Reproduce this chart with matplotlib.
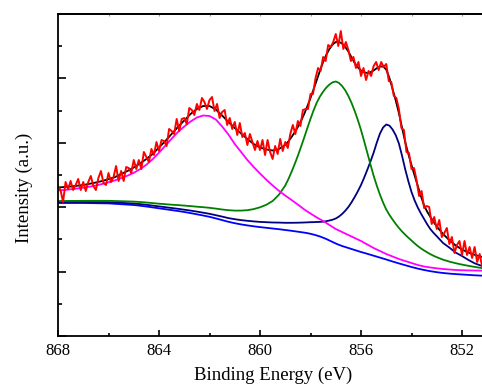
import numpy as np
import matplotlib
matplotlib.use("Agg")
import matplotlib.pyplot as plt
from matplotlib.ticker import MultipleLocator

plt.rcParams['font.family'] = ['Liberation Serif', 'DejaVu Serif']

# Fitted curves (intensity in a.u.): 0.25 eV steps, finer (0.125 eV) across the main peaks
energy_fit = np.concatenate([np.linspace(868.0, 859.25, 36),
                             np.linspace(859.0, 853.0, 49),
                             np.linspace(852.75, 851.0, 8)])

background = [133.0, 133.0, 133.0, 133.0, 133.0, 132.9, 132.8, 132.7, 132.6, 132.2,
              131.8, 131.4, 131.0, 130.3, 129.5, 128.6, 127.7, 126.8, 125.9, 125.0,
              124.0, 122.9, 121.7, 120.5, 119.2, 117.6, 115.9, 114.2, 112.8, 111.6,
              110.6, 109.7, 108.9, 108.2, 107.5, 106.8,
              106.0, 105.6, 105.2, 104.75, 104.3, 103.85, 103.4, 102.85, 102.2, 101.4,
              100.5, 99.5, 98.3, 97.0, 95.5, 94.0, 92.5, 91.2, 90.0, 89.0,
              88.0, 87.0, 86.0, 85.0, 84.0, 83.1, 82.2, 81.25, 80.3, 79.35,
              78.4, 77.45, 76.5, 75.5, 74.5, 73.55, 72.6, 71.7, 70.8, 69.9,
              69.0, 68.2, 67.4, 66.7, 66.0, 65.4, 64.8, 64.3, 63.8,
              63.0, 62.4, 61.9, 61.5, 61.1, 60.7, 60.4, 60.1]

peak_855 = [134.0, 134.0, 134.0, 134.0, 134.0, 134.0, 133.9, 133.9, 133.8, 133.5,
            133.2, 132.8, 132.5, 131.9, 131.2, 130.4, 129.6, 128.8, 128.0, 127.2,
            126.3, 125.4, 124.4, 123.3, 122.2, 120.8, 119.4, 117.9, 116.8, 115.9,
            115.2, 114.6, 114.1, 113.8, 113.5, 113.4,
            113.2, 113.2, 113.2, 113.25, 113.3, 113.4, 113.5, 113.65, 113.8, 113.85,
            114.0, 114.1, 114.3, 114.8, 115.5, 116.3, 117.5, 119.4, 122.0, 125.2,
            129.0, 133.7, 139.0, 144.7, 151.0, 158.3, 166.2, 174.5, 183.3, 193.35,
            202.4, 208.5, 211.5, 210.4, 206.5, 200.85, 192.6, 180.3, 166.8, 154.8,
            144.0, 135.5, 128.4, 122.4, 117.0, 111.6, 106.8, 103.1, 99.8,
            93.0, 88.4, 83.4, 80.0, 76.1, 72.7, 70.4, 68.6]

peak_857 = [135.0, 135.0, 135.1, 135.1, 135.2, 135.2, 135.2, 135.2, 135.2, 135.0,
            134.8, 134.6, 134.4, 134.0, 133.5, 132.9, 132.3, 131.8, 131.3, 130.9,
            130.4, 129.9, 129.3, 128.8, 128.2, 127.4, 126.5, 125.8, 125.4, 125.4,
            125.8, 126.9, 128.7, 131.2, 135.0, 141.3,
            150.5, 156.9, 164.2, 172.0, 180.3, 189.2, 198.4, 207.9, 217.2, 225.85,
            233.5, 239.5, 244.3, 248.4, 251.5, 253.7, 254.5, 253.1, 250.0, 245.7,
            240.0, 233.1, 225.0, 216.0, 206.0, 194.8, 183.2, 171.5, 160.3, 150.35,
            141.4, 133.4, 126.5, 121.1, 116.5, 112.1, 108.1, 104.5, 101.3, 98.3,
            95.5, 92.6, 89.9, 87.6, 85.5, 83.6, 81.8, 80.2, 78.8,
            76.3, 74.4, 72.8, 71.4, 70.2, 69.1, 68.1, 67.2]

satellite = [145.5, 146.0, 146.7, 147.5, 148.3, 149.3, 150.5, 152.0, 153.7, 155.6,
             157.8, 160.3, 163.2, 166.8, 171.3, 176.8, 183.3, 190.3, 197.3, 204.0,
             209.5, 214.5, 218.5, 220.5, 220.0, 216.5, 209.5, 201.5, 192.0, 184.0,
             176.0, 169.0, 162.5, 156.3, 150.5, 145.2,
             140.4, 138.2, 136.0, 133.7, 131.4, 129.0, 126.6, 124.5, 122.5, 120.5,
             118.5, 116.75, 115.0, 113.0, 111.0, 109.0, 107.0, 105.5, 104.0, 102.5,
             101.0, 99.5, 98.0, 96.5, 95.0, 93.25, 91.5, 89.75, 88.0, 86.5,
             85.0, 83.5, 82.0, 80.75, 79.5, 78.25, 77.0, 76.0, 75.0, 74.0,
             73.0, 72.0, 71.0, 70.25, 69.5, 69.0, 68.5, 68.1, 67.7,
             67.0, 66.5, 66.0, 65.8, 65.6, 65.5, 65.4, 65.3]

envelope = [148.5, 149.0, 149.5, 150.2, 151.0, 152.2, 153.5, 155.0, 156.8, 158.8,
            162.0, 165.0, 168.5, 172.5, 177.0, 182.0, 188.5, 195.0, 202.0, 209.0,
            215.5, 222.0, 227.0, 230.0, 230.0, 226.5, 220.5, 214.0, 208.0, 202.5,
            197.0, 192.0, 188.5, 186.5, 185.5, 187.0,
            191.0, 194.6, 199.0, 203.7, 209.0, 215.1, 222.0, 229.7, 238.0, 246.9,
            256.0, 265.3, 274.0, 281.2, 287.0, 291.4, 294.0, 294.2, 292.5, 289.1,
            284.5, 278.7, 273.0, 268.7, 265.5, 263.6, 263.0, 263.8, 265.5, 267.8,
            269.5, 269.5, 266.5, 258.1, 247.0, 235.6, 223.0, 208.4, 194.0, 182.0,
            171.0, 160.3, 150.0, 139.7, 130.5, 124.1, 119.0, 114.0, 109.5,
            102.0, 95.8, 90.5, 86.5, 83.5, 81.2, 79.4, 78.0]

# Measured spectrum, 0.1 eV steps
energy_raw = np.linspace(868.0, 851.2, 169)
counts_raw = [150, 146, 134, 154, 147, 155, 146, 151, 157, 146,
              154, 145, 154, 160, 150, 146, 158, 165, 153, 151,
              163, 154, 159, 170, 155, 165, 155, 169, 168, 163,
              176, 167, 176, 167, 184, 179, 174, 187, 181, 194,
              185, 196, 195, 190, 207, 205, 202, 217, 205, 217,
              218, 212, 228, 226, 221, 232, 226, 238, 234, 227,
              236, 239, 225, 232, 218, 224, 226, 211, 218, 207,
              214, 201, 213, 199, 203, 191, 202, 194, 186, 195,
              186, 196, 181, 196, 184, 177, 190, 182, 197, 185,
              194, 188, 202, 211, 202, 215, 210, 226, 227, 227,
              242, 242, 258, 268, 265, 279, 275, 291, 289, 294,
              302, 290, 305, 287, 294, 286, 275, 279, 268, 274,
              260, 268, 256, 265, 260, 270, 274, 266, 274, 269,
              272, 255, 254, 240, 238, 227, 208, 206, 184, 183,
              167, 168, 156, 140, 145, 128, 130, 129, 112, 119,
              107, 116, 99, 103, 108, 92, 99, 83, 91, 95,
              81, 95, 81, 89, 78, 89, 74, 82, 69]

fig = plt.figure(figsize=(4.82, 3.90), dpi=100)
ax = fig.add_axes([58 / 482, 54 / 390, 425 / 482, 322 / 390])

# Components, envelope, then the raw data on top
ax.plot(energy_fit, background, color="#0000ff", lw=1.3)
ax.plot(energy_fit, peak_855, color="#000080", lw=1.3)
ax.plot(energy_fit, peak_857, color="#008000", lw=1.3)
ax.plot(energy_fit, satellite, color="#ff00ff", lw=1.3)
ax.plot(energy_fit, envelope, color="black", lw=1.3)
ax.plot(energy_raw, counts_raw, color="#ff0000", lw=1.4)

ax.set_xlim(868, 868 - 425 / 25.25)
ax.set_ylim(0, 322)

ax.xaxis.set_major_locator(MultipleLocator(4))
ax.xaxis.set_minor_locator(MultipleLocator(2))
ax.yaxis.set_major_locator(MultipleLocator(64.4))
ax.yaxis.set_minor_locator(MultipleLocator(32.2))

ax.tick_params(axis="x", which="major", direction="in", length=4, width=1.2, labelsize=12, pad=5)
ax.tick_params(axis="x", which="minor", direction="in", length=2.5, width=1.2)
ax.tick_params(axis="y", which="major", direction="in", length=5.5, width=1.2, labelleft=False)
ax.tick_params(axis="y", which="minor", direction="in", length=3, width=1.2)

# faint little ticks along the top edge
top = ax.secondary_xaxis("top")
top.set_xticks(np.arange(852, 869, 2))
top.tick_params(direction="in", length=1.5, width=0.8, color="0.6", labeltop=False)
top.spines["top"].set_linewidth(1.3)

ax.spines["right"].set_visible(False)
for s in ["left", "bottom", "top"]:
    ax.spines[s].set_linewidth(1.3)

ax.set_xlabel("Binding Energy (eV)", fontsize=13.5)
ax.set_ylabel("Intensity (a.u.)", fontsize=13.5)
ax.xaxis.set_label_coords(0.505, -0.095)
ax.yaxis.set_label_coords(-0.059, 0.46)

fig.savefig("out.png", dpi=100)
